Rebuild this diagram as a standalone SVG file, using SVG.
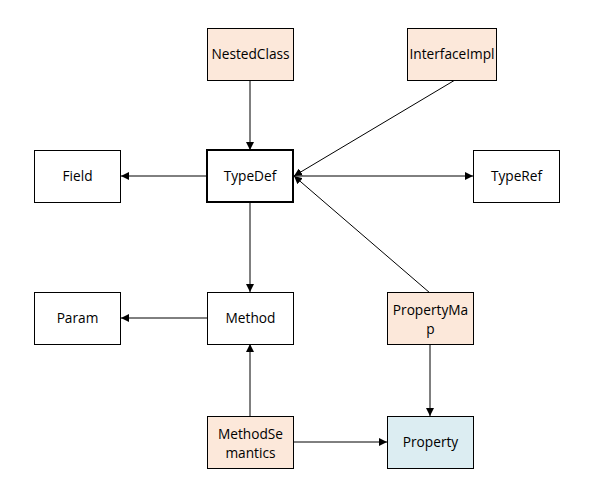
<svg xmlns="http://www.w3.org/2000/svg" width="598" height="495" viewBox="0 0 598 495">
<style>
.n{stroke:#000;stroke-width:1}
.w{fill:#fff}
.o{fill:#fce8da}
.b{fill:#dcedf2}
.t{font-family:"Open Sans","Noto Sans","Liberation Sans",sans-serif;font-size:13.7px;fill:#000;text-anchor:middle}
.e{stroke:#000;stroke-width:1;fill:none;marker-end:url(#a)}
</style>
<defs>
<marker id="a" viewBox="0 0 10 10" refX="10" refY="5" markerWidth="8" markerHeight="8" markerUnits="userSpaceOnUse" orient="auto">
<path d="M0,0 L10,5 L0,10 z" fill="#000"/>
</marker>
</defs>
<rect width="598" height="495" fill="#fff"/>
<g id="connectors">
<line class="e" x1="250" y1="80" x2="250" y2="150"/>
<line class="e" x1="455" y1="80" x2="294" y2="176"/>
<line class="e" x1="430" y1="293" x2="294" y2="176"/>
<line class="e" x1="207" y1="176" x2="121" y2="176"/>
<line class="e" x1="293" y1="176" x2="473" y2="176"/>
<line class="e" x1="250" y1="202" x2="250" y2="292"/>
<line class="e" x1="207" y1="318" x2="121" y2="318"/>
<line class="e" x1="430" y1="344" x2="430" y2="416"/>
<line class="e" x1="250" y1="416" x2="250" y2="344"/>
<line class="e" x1="293" y1="442" x2="387" y2="442"/>
</g>
<g id="NestedClass"><rect class="n o" x="207.5" y="28.5" width="86" height="52"/><text class="t" x="250.5" y="59">NestedClass</text></g>
<g id="InterfaceImpl"><rect class="n o" x="407.5" y="28.5" width="89" height="52"/><text class="t" x="452" y="59">InterfaceImpl</text></g>
<g id="TypeDef"><rect x="207" y="150" width="86" height="52" fill="#fff" stroke="#000" stroke-width="2"/><text class="t" x="250" y="181">TypeDef</text></g>
<g id="Field"><rect class="n w" x="34.5" y="150.5" width="86" height="52"/><text class="t" x="77.5" y="181">Field</text></g>
<g id="TypeRef"><rect class="n w" x="473.5" y="150.5" width="86" height="52"/><text class="t" x="516.5" y="181">TypeRef</text></g>
<g id="Method"><rect class="n w" x="207.5" y="292.5" width="86" height="52"/><text class="t" x="250.5" y="323">Method</text></g>
<g id="Param"><rect class="n w" x="34.5" y="292.5" width="86" height="52"/><text class="t" x="77.5" y="323">Param</text></g>
<g id="PropertyMap"><rect class="n o" x="387.5" y="292.5" width="86" height="52"/><text class="t" x="430.5" y="315">PropertyMa</text><text class="t" x="430.5" y="334">p</text></g>
<g id="MethodSemantics"><rect class="n o" x="207.5" y="416.5" width="86" height="52"/><text class="t" x="250.5" y="439">MethodSe</text><text class="t" x="250.5" y="458">mantics</text></g>
<g id="Property"><rect class="n b" x="387.5" y="416.5" width="86" height="52"/><text class="t" x="430.5" y="447">Property</text></g>
</svg>
